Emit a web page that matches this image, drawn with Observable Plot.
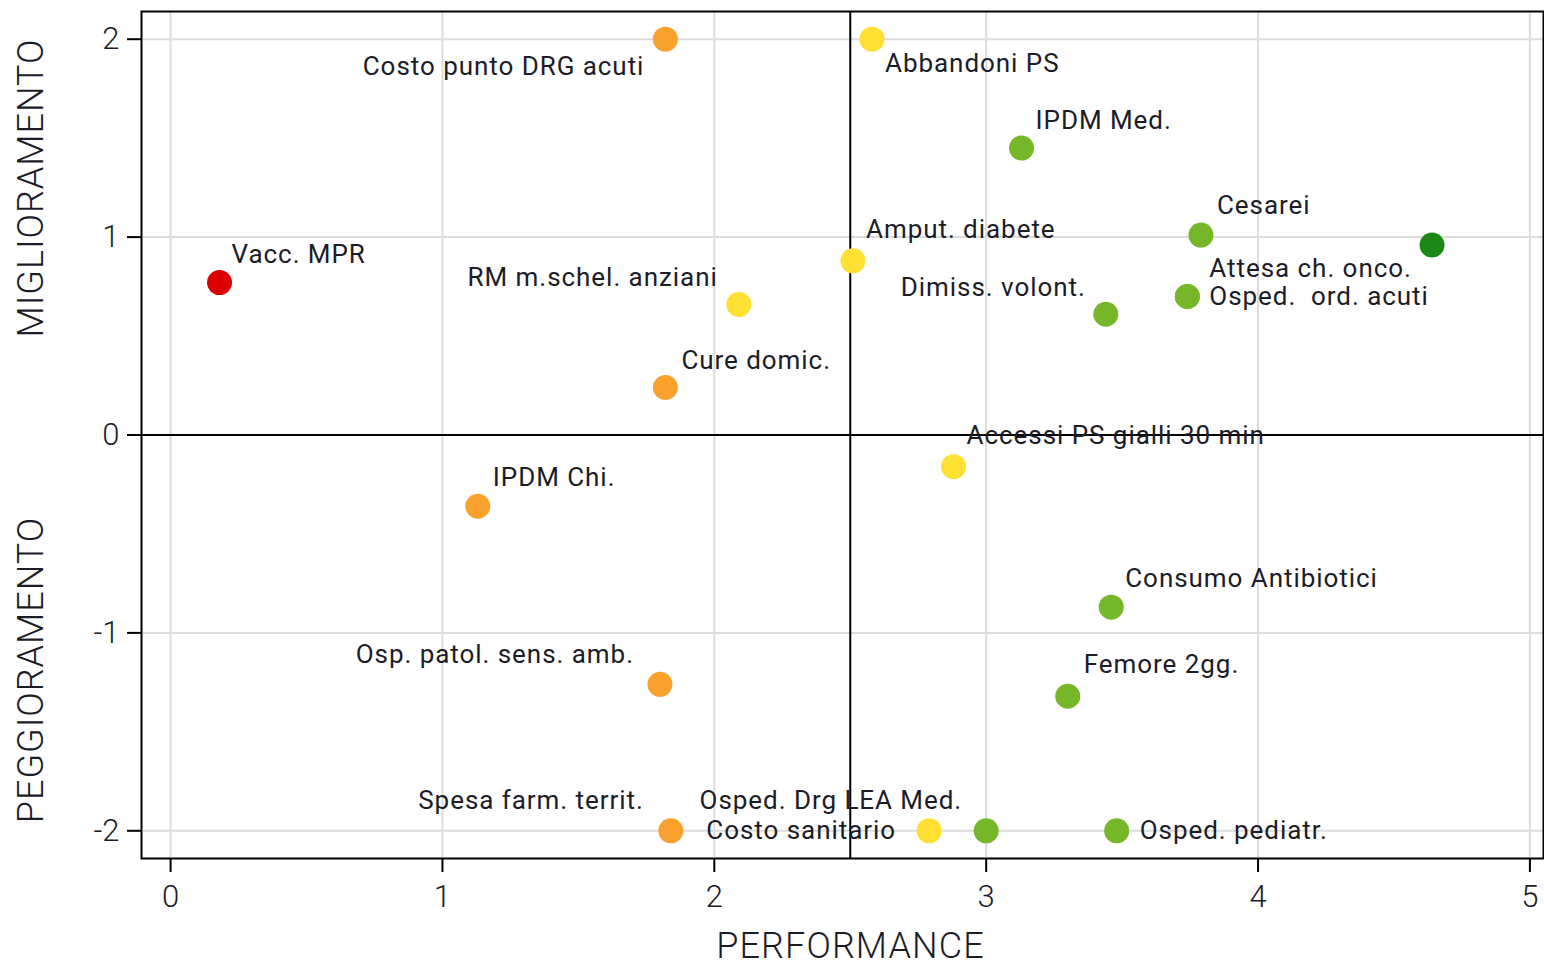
<!DOCTYPE html>
<html>
<head>
<meta charset="utf-8">
<script src="https://cdn.jsdelivr.net/npm/d3@7"></script>
<script src="https://cdn.jsdelivr.net/npm/@observablehq/plot@0.6"></script>
<style>
  html, body { margin: 0; padding: 0; background: #fff; }
  #chart svg { display: block; }
</style>
</head>
<body>
<div id="chart"></div>
<script>
// ---- data ----
const labels = ["Costo punto DRG acuti", "Abbandoni PS", "IPDM Med.", "Cesarei", "",
  "Attesa ch. onco.", "Osped.  ord. acuti", "Vacc. MPR", "RM m.schel. anziani", "Amput. diabete",
  "Dimiss. volont.", "Cure domic.", "Accessi PS gialli 30 min", "IPDM Chi.", "Consumo Antibiotici",
  "Osp. patol. sens. amb.", "Femore 2gg.", "Spesa farm. territ.", "Costo sanitario",
  "Osped. Drg LEA Med.", "Osped. pediatr."];
const performance = [1.82, 2.58, 3.13, 3.79, 4.64, 3.74, 3.74, 0.18, 2.09, 2.51,
  3.44, 1.82, 2.88, 1.13, 3.46, 1.80, 3.30, 1.84, 2.79, 3.00, 3.48];
const trend = [2.00, 2.00, 1.45, 1.01, 0.96, 0.70, 0.70, 0.77, 0.66, 0.88,
  0.61, 0.24, -0.16, -0.36, -0.87, -1.26, -1.32, -2.00, -2.00, -2.00, -2.00];
const level = ["orange", "yellow", "green", "green", "darkgreen", "green", "green", "red", "yellow", "yellow",
  "green", "orange", "yellow", "orange", "green", "orange", "green", "orange", "yellow", "green", "green"];
const xTicks = [0, 1, 2, 3, 4, 5];
const yTicks = [-2, -1, 0, 1, 2];
const xTitle = "PERFORMANCE";
const yTitleTop = "MIGLIORAMENTO";
const yTitleBottom = "PEGGIORAMENTO";

// ---- label layout (pixel offsets from each dot) ----
const labelLayout = [
  [-21, 27, "end"], [13, 24, "start"], [14, -27, "start"], [16, -29, "start"], [0, 0, "start"],
  [22, -28, "start"], [22, 0, "start"], [12, -28, "start"], [-21, -27, "end"], [13, -31, "start"],
  [-20, -27, "end"], [16, -27, "start"], [13, -31, "start"], [15, -29, "start"], [14, -28, "start"],
  [-26, -30, "end"], [16, -32, "start"], [-27, -30, "end"], [-33, 0, "end"], [-24, -30, "end"], [23, 0, "start"]
];

const colorMap = {red: "#dd0000", orange: "#f9a12e", yellow: "#ffe033", green: "#76b72a", darkgreen: "#1a8717"};

const data = labels.map((l, i) => ({label: l, x: performance[i], y: trend[i], level: level[i], i}));

const font = "Roboto, 'DejaVu Sans', sans-serif";
const textColor = "#1c1c28";

const labelMarks = data.filter(d => d.label).map(d => {
  const [dx, dy, anchor] = labelLayout[d.i];
  return Plot.text([d], {x: "x", y: "y", text: "label", dx, dy, textAnchor: anchor,
    fontSize: 26, fill: textColor, fontFamily: font});
});

const W = 1544, H = 965, mL = 141, mR = 1, mT = 11, mB = 107;

const chart = Plot.plot({
  width: W,
  height: H,
  marginLeft: mL,
  marginRight: mR,
  marginTop: mT,
  marginBottom: mB,
  style: {fontFamily: font, background: "#fff"},
  x: {domain: [-0.107, 5.05]},
  y: {domain: [-2.14, 2.14]},
  marks: [
    Plot.gridX(xTicks, {stroke: "#dcdcdc", strokeOpacity: 1, strokeWidth: 2}),
    Plot.gridY(yTicks, {stroke: "#dcdcdc", strokeOpacity: 1, strokeWidth: 2}),
    Plot.ruleY([0], {stroke: "#000", strokeWidth: 2}),
    Plot.ruleX([2.5], {stroke: "#000", strokeWidth: 2}),
    Plot.dot(data, {x: "x", y: "y", r: 12.5, fill: d => colorMap[d.level], stroke: null}),
    ...labelMarks,
    Plot.axisX(xTicks, {tickSize: 14, tickPadding: 12, fontSize: 31, fontWeight: 300, fill: textColor, stroke: "#000", strokeWidth: 2, label: null, tickFormat: d => String(d)}),
    Plot.axisY(yTicks, {tickSize: 14, tickPadding: 8, fontSize: 31, fontWeight: 300, fill: textColor, stroke: "#000", strokeWidth: 2, label: null, tickFormat: d => String(d)}),
    Plot.frame({stroke: "#000", strokeWidth: 2}),
    Plot.text([xTitle], {frameAnchor: "bottom", dx: 8, dy: 99, fontSize: 36, fontWeight: 300, fill: textColor, fontFamily: font})
  ]
});

const svg = d3.select(chart);
// letter spacing to approximate the reference's wider font
svg.selectAll('g[aria-label="text"] text').attr("letter-spacing", "0.95px");
svg.selectAll('g[aria-label="text"] text').filter(function() { return this.textContent === xTitle; })
  .attr("letter-spacing", "1.1px");

// rotated y-axis titles, placed relative to the frame
const titles = [[yTitleTop, mT + 177], [yTitleBottom, H - mB - 188]];
svg.append("g")
  .attr("font-family", font)
  .attr("font-size", 36)
  .attr("font-weight", 300)
  .attr("fill", textColor)
  .attr("letter-spacing", "1px")
  .attr("text-anchor", "middle")
  .selectAll("text")
  .data(titles)
  .join("text")
  .attr("transform", d => `translate(${mL - 98},${d[1]}) rotate(-90)`)
  .text(d => d[0]);

document.getElementById("chart").appendChild(chart);
</script>
</body>
</html>
